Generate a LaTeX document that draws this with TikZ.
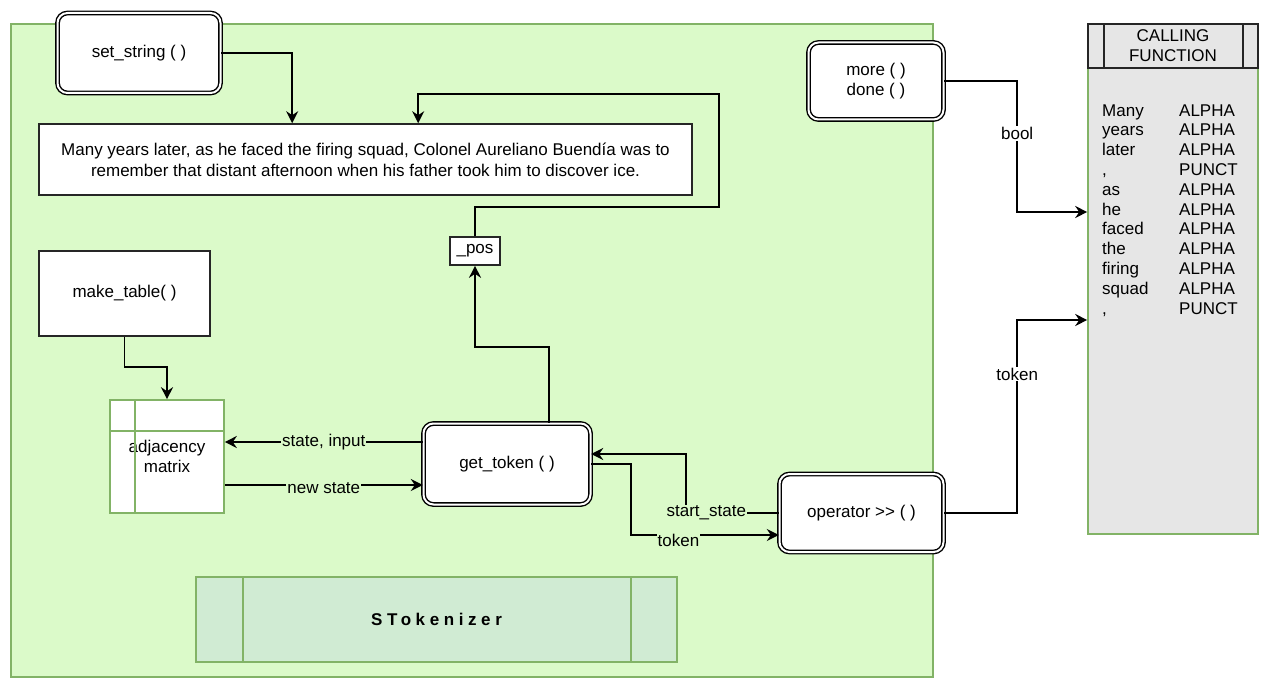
\documentclass[tikz,border=0pt]{standalone}
\usepackage{fontspec}
\setmainfont{Liberation Sans}
\usetikzlibrary{arrows.meta,positioning}
\definecolor{greenbg}{HTML}{DBFAC9}
\definecolor{greenline}{HTML}{82B366}
\definecolor{classbg}{HTML}{D0EBD3}
\definecolor{callbg}{HTML}{E6E6E6}

\begin{document}
\begin{tikzpicture}[
	x=1pt, y=-1pt,
	every node/.style = {font=\fontsize{17}{20}\selectfont, inner sep=0pt},
	func/.style = {draw, double, line width=1.4pt, double distance=2pt,
		rounded corners=10pt, fill=white, align=center},
	plain/.style = {draw=black!85, line width=1.6pt, fill=white, align=center},
	arr/.style = {-{Stealth[length=12pt,width=12pt,inset=4pt]}, line width=1.8pt},
	lbl/.style = {fill=greenbg, inner sep=1pt},
	lblw/.style = {fill=white, inner sep=1pt}
]
\useasboundingbox (0,0) rectangle (1274,690);

\node[draw=greenline, line width=1.6pt, fill=greenbg, minimum width=922, minimum height=653] (tok) at (472,350.5) {};

\node[func, minimum width=163, minimum height=80] (setstr) at (139,53) {set\_string ( )};
\node[func, minimum width=135, minimum height=77] (more) at (876,81) {more ( )\\done ( )};
\node[func, minimum width=167, minimum height=81] (gettok) at (507,464) {get\_token ( )};
\node[func, minimum width=164, minimum height=78] (optr) at (861.5,513) {operator >{}> ( )};

\node[plain, minimum width=653, minimum height=71, font=\fontsize{17}{21}\selectfont] (quote) at (365.5,159.5)
	{Many years later, as he faced the firing squad, Colonel Aureliano Buendía was to\\
	remember that distant afternoon when his father took him to discover ice.};
\node[plain, minimum width=50, minimum height=28] (pos) at (475,251) {\_pos};
\node[plain, minimum width=171, minimum height=85] (mktab) at (124.5,293.5) {make\_table( )};

\node[draw=greenline, line width=1.6pt, fill=white, minimum width=114, minimum height=113, align=center] (adj) at (167,456.5) {adjacency\\matrix};
\draw[greenline, line width=1.6pt] ([yshift=-32pt]adj.north west) -- ([yshift=-32pt]adj.north east);
\draw[greenline, line width=1.6pt] ([xshift=26pt]adj.north west) -- ([xshift=26pt]adj.south west);

\node[draw=greenline, line width=1.6pt, fill=classbg, minimum width=481, minimum height=85] (cls) at (436.5,619.5)
	{\bfseries\addfontfeature{LetterSpace=27}STokenizer};
\draw[greenline, line width=1.6pt] ([xshift=48pt]cls.north west) -- ([xshift=48pt]cls.south west);
\draw[greenline, line width=1.6pt] ([xshift=-47pt]cls.north east) -- ([xshift=-47pt]cls.south east);

\node[draw=greenline, line width=1.6pt, fill=callbg, minimum width=170, minimum height=510] (call) at (1173,279) {};
\node[draw=black!85, line width=1.6pt, fill=callbg, minimum width=170, minimum height=44, anchor=north, align=center] (callhead) at (call.north)
	{CALLING\\FUNCTION};
\draw[black!85, line width=1.6pt] ([xshift=17pt]callhead.north west) -- ([xshift=17pt]callhead.south west);
\draw[black!85, line width=1.6pt] ([xshift=-16pt]callhead.north east) -- ([xshift=-16pt]callhead.south east);
\node[anchor=north west, font=\fontsize{17}{19.8}\selectfont] (out) at (1102,102)
	{\begin{tabular}{@{}p{77pt}@{}l@{}}
	Many & ALPHA\\ years & ALPHA\\ later & ALPHA\\ , & PUNCT\\ as & ALPHA\\ he & ALPHA\\
	faced & ALPHA\\ the & ALPHA\\ firing & ALPHA\\ squad & ALPHA\\ , & PUNCT
	\end{tabular}};

\draw[arr] (setstr.east) -| ([xshift=254pt]quote.north west);
\draw[arr] (pos.north) -- ++(0,-29) -- ++(244,0) -- ++(0,-113) -| ([xshift=380pt]quote.north west);
\draw[arr] ([xshift=42pt]gettok.north) -- ++(0,-76) -| (pos.south);
\draw[arr] (mktab.south) -- ++(0,30) -| (adj.north);
\draw[arr] ([yshift=22pt]gettok.west) -- node[lbl]{state, input} ([yshift=22pt]gettok.west -| adj.east);
\draw[arr] ([yshift=-21pt]gettok.west -| adj.east) -- node[lbl, yshift=-3pt]{new state} ([yshift=-21pt]gettok.west);
\draw[arr] (optr.west) -- node[lbl, pos=0.78]{start\_state} ++(-93,0) |- ([yshift=10pt]gettok.east);
\draw[arr] (gettok.east) -- ++(40,0) |- node[lbl, pos=0.66, yshift=-5pt]{token} ([yshift=-22pt]optr.west);
\draw[arr] (more.east) -- ++(73,0) |- node[lblw, pos=0.2]{bool} ([yshift=67pt]call.west);
\draw[arr] (optr.east) -- ++(73,0) |- node[lblw, pos=0.36]{token} ([yshift=-41pt]call.west);
\end{tikzpicture}
\end{document}
